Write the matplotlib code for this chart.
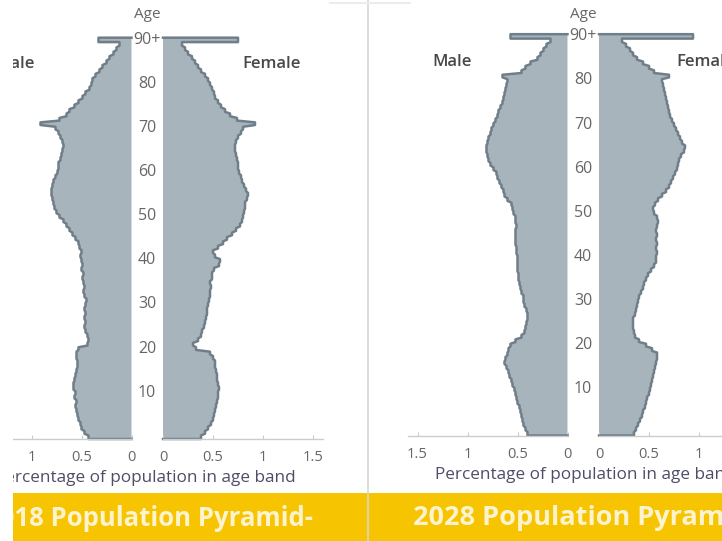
import numpy as np
import matplotlib
matplotlib.use("Agg")
import matplotlib.pyplot as plt
import matplotlib.transforms as mtransforms

plt.rcParams['font.family'] = ['Open Sans', 'DejaVu Sans']

# ---------------- data (percentage of population, single year of age 0..89, then 90+) ----------------
ages = list(range(91))
age_tick_labels = ['10', '20', '30', '40', '50', '60', '70', '80', '90+']
age_tick_values = [10, 20, 30, 40, 50, 60, 70, 80, 90]
x_ticks = [0, 0.5, 1, 1.5]
x_tick_labels = ['0', '0.5', '1', '1.5']

male_2018 = [0.43, 0.47, 0.50, 0.51, 0.53, 0.54, 0.55, 0.56, 0.55, 0.57,
             0.56, 0.58, 0.58, 0.57, 0.56, 0.55, 0.54, 0.54, 0.55, 0.55,
             0.53, 0.44, 0.43, 0.44, 0.46, 0.47, 0.46, 0.47, 0.46, 0.47,
             0.46, 0.45, 0.47, 0.48, 0.47, 0.48, 0.49, 0.48, 0.50, 0.49,
             0.50, 0.51, 0.50, 0.52, 0.53, 0.56, 0.59, 0.62, 0.65, 0.68,
             0.72, 0.75, 0.77, 0.78, 0.79, 0.80, 0.80, 0.79, 0.78, 0.76,
             0.74, 0.73, 0.73, 0.71, 0.70, 0.69, 0.68, 0.69, 0.71, 0.73,
             0.76, 0.91, 0.72, 0.65, 0.62, 0.57, 0.53, 0.49, 0.46, 0.42,
             0.40, 0.39, 0.36, 0.32, 0.29, 0.25, 0.22, 0.18, 0.15, 0.12,
             0.33]
female_2018 = [0.38, 0.42, 0.45, 0.48, 0.50, 0.51, 0.52, 0.53, 0.54, 0.55,
               0.55, 0.56, 0.55, 0.54, 0.54, 0.53, 0.52, 0.52, 0.50, 0.47,
               0.33, 0.30, 0.35, 0.38, 0.39, 0.41, 0.42, 0.43, 0.44, 0.44,
               0.45, 0.46, 0.47, 0.47, 0.48, 0.47, 0.49, 0.49, 0.51, 0.56,
               0.57, 0.52, 0.50, 0.55, 0.60, 0.64, 0.69, 0.73, 0.77, 0.79,
               0.80, 0.81, 0.82, 0.82, 0.84, 0.85, 0.83, 0.81, 0.79, 0.78,
               0.76, 0.75, 0.75, 0.74, 0.73, 0.72, 0.72, 0.73, 0.75, 0.78,
               0.80, 0.92, 0.74, 0.67, 0.62, 0.58, 0.55, 0.52, 0.51, 0.49,
               0.47, 0.45, 0.42, 0.38, 0.35, 0.32, 0.29, 0.25, 0.22, 0.19,
               0.75]
male_2028 = [0.40, 0.42, 0.44, 0.45, 0.46, 0.47, 0.48, 0.50, 0.51, 0.52,
             0.53, 0.55, 0.56, 0.58, 0.59, 0.61, 0.63, 0.62, 0.60, 0.59,
             0.57, 0.52, 0.46, 0.43, 0.42, 0.41, 0.40, 0.40, 0.41, 0.43,
             0.44, 0.44, 0.46, 0.47, 0.48, 0.49, 0.49, 0.50, 0.50, 0.50,
             0.50, 0.51, 0.51, 0.52, 0.52, 0.52, 0.52, 0.51, 0.52, 0.52,
             0.54, 0.55, 0.56, 0.60, 0.63, 0.64, 0.66, 0.68, 0.70, 0.71,
             0.74, 0.77, 0.79, 0.80, 0.81, 0.81, 0.80, 0.79, 0.77, 0.76,
             0.74, 0.72, 0.70, 0.69, 0.67, 0.65, 0.64, 0.63, 0.62, 0.61,
             0.60, 0.65, 0.46, 0.42, 0.37, 0.30, 0.27, 0.24, 0.21, 0.17,
             0.57]
female_2028 = [0.35, 0.37, 0.39, 0.41, 0.43, 0.44, 0.46, 0.47, 0.48, 0.50,
               0.51, 0.52, 0.53, 0.54, 0.55, 0.56, 0.57, 0.58, 0.58, 0.53,
               0.47, 0.40, 0.36, 0.35, 0.34, 0.34, 0.34, 0.36, 0.37, 0.38,
               0.39, 0.40, 0.42, 0.44, 0.45, 0.47, 0.49, 0.52, 0.55, 0.57,
               0.57, 0.58, 0.57, 0.58, 0.57, 0.58, 0.57, 0.58, 0.59, 0.58,
               0.55, 0.54, 0.56, 0.59, 0.63, 0.67, 0.70, 0.72, 0.74, 0.76,
               0.78, 0.79, 0.80, 0.82, 0.85, 0.86, 0.83, 0.81, 0.79, 0.77,
               0.75, 0.73, 0.71, 0.70, 0.69, 0.68, 0.67, 0.66, 0.65, 0.64,
               0.63, 0.70, 0.55, 0.50, 0.44, 0.38, 0.34, 0.31, 0.27, 0.23,
               0.94]

years = ['2018', '2028']

# ---------------- styling ----------------
W, H = 722, 541
FILL = '#a8b4bc'
EDGE = '#6f7e88'
AXIS = '#cccccc'
TICKC = '#666666'
LABELC = '#4d4d68'
BANNER = '#f6c400'

fig = plt.figure(figsize=(W / 100, H / 100), dpi=100)
fig.patch.set_facecolor('white')


def fx(px):
    return px / W


def fy(py):
    return 1 - py / H


def add_ax(left, bottom, width, top):
    return fig.add_axes([fx(left), fy(bottom), width / W, (bottom - top) / H])


def draw_half(ax, vals, inverted):
    vals = np.asarray(vals, dtype=float)
    n = len(vals)
    body = vals[:-1]
    xs = [0.0, body[0]]
    ys = [0.0, 0.0]
    for i, v in enumerate(body):
        xs += [v, v]
        ys += [i + 0.2, i + 0.8]
    xs += [body[-1], vals[-1], vals[-1], 0.0]
    ys += [n - 1, n - 1, n, n]
    ax.fill(xs, ys, color=FILL, linewidth=0, zorder=1)
    ax.plot(xs, ys, color=EDGE, linewidth=1.8, solid_joinstyle='round', zorder=2, clip_on=False)
    ax.set_ylim(0, n)
    if inverted:
        ax.set_xlim(1.6, 0)
    else:
        ax.set_xlim(0, 1.6)
    for s in ['top', 'left', 'right']:
        ax.spines[s].set_visible(False)
    ax.spines['bottom'].set_color(AXIS)
    ax.spines['bottom'].set_linewidth(1.0)
    ax.set_yticks([])
    ax.set_xticks(x_ticks)
    ax.set_xticklabels(x_tick_labels)
    ax.tick_params(axis='x', direction='in', length=3, color=AXIS, labelcolor=TICKC,
                   labelsize=10.5, pad=8)
    ax.patch.set_alpha(0)


panels = [
    dict(mz=131.5, fz=163, bottom=439, agex=147, agey=13, male=male_2018, female=female_2018),
    dict(mz=567.5, fz=599, bottom=435.5, agex=583, agey=12, male=male_2028, female=female_2028),
]
px_per_age = 4.41

for p, yr in zip(panels, years):
    top = p['bottom'] - 91 * px_per_age
    axm = add_ax(p['mz'] - 160, p['bottom'], 160, top)
    axf = add_ax(p['fz'], p['bottom'], 160, top)
    draw_half(axm, p['male'], True)
    draw_half(axf, p['female'], False)
    trans = mtransforms.blended_transform_factory(fig.transFigure, axf.transData)
    for a, lab in zip(age_tick_values, age_tick_labels):
        fig.text(fx(p['agex']), a + 0.5, lab, transform=trans, ha='center', va='center',
                 fontsize=11.5, color=TICKC)
    fig.text(fx(p['agex']), fy(p['agey'] + 2), 'Age', ha='center', va='center',
             fontsize=11, color=TICKC)

# Male / Female labels
lab_kw = dict(va='center', fontsize=12, fontweight='semibold', color='#484848')
fig.text(fx(35), fy(64), 'Male', ha='right', **lab_kw)
fig.text(fx(242), fy(64), 'Female', ha='left', **lab_kw)
fig.text(fx(432), fy(62), 'Male', ha='left', **lab_kw)
fig.text(fx(676), fy(62), 'Female', ha='left', **lab_kw)

# axis titles
fig.text(fx(296), fy(478), 'Percentage of population in age band', ha='right', va='center',
         fontsize=12.3, color=LABELC)
fig.text(fx(435), fy(475), 'Percentage of population in age band', ha='left', va='center',
         fontsize=12.3, color=LABELC)

# separator line and faint top border
fig.add_artist(plt.Line2D([fx(368), fx(368)], [fy(0), fy(541)], color='#d6d6d6', linewidth=1.2))
fig.add_artist(plt.Line2D([fx(330), fx(410)], [fy(3), fy(3)], color='#ececec', linewidth=1.5))

# banner
fig.add_artist(plt.Rectangle((0, 0), 1, fy(493), transform=fig.transFigure,
                             facecolor=BANNER, edgecolor='none', zorder=0))
fig.text(fx(313), fy(518), '2018 Population Pyramid-', ha='right', va='center',
         fontsize=18.5, fontweight='bold', color='#fdf3cf')
fig.text(fx(413), fy(518), '2028 Population Pyramid-', ha='left', va='center',
         fontsize=19.5, fontweight='bold', color='#fdf3cf')

# white margin strip on the far left of the screenshot
fig.add_artist(plt.Rectangle((0, 0), fx(13), 1, transform=fig.transFigure,
                             facecolor='white', edgecolor='none', zorder=10))

fig.savefig('out.png', dpi=100, facecolor='white')
